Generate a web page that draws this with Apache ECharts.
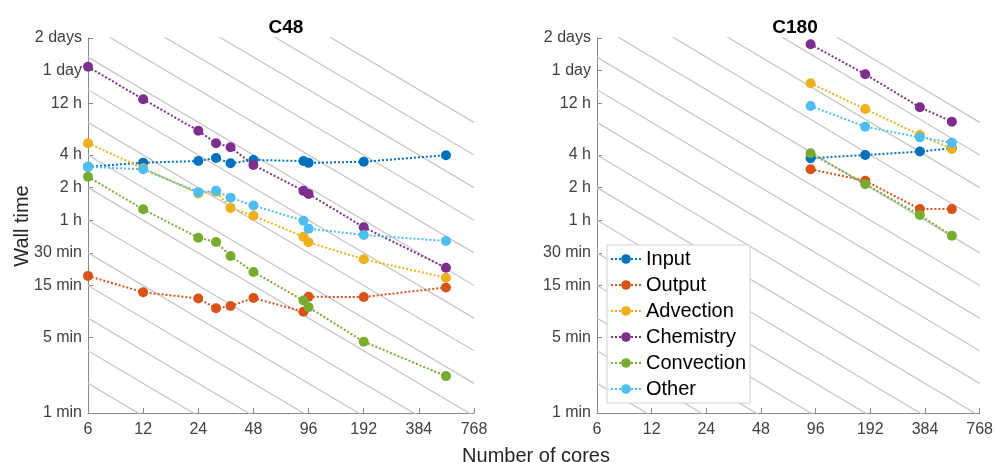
<!DOCTYPE html>
<html>
<head>
<meta charset="utf-8">
<script src="https://cdn.jsdelivr.net/npm/echarts@6/dist/echarts.min.js"></script>
<style>
html, body { margin: 0; padding: 0; background: #fff; }
#main { width: 996px; height: 462px; }
</style>
</head>
<body>
<div id="main"></div>
<script>
// tick labels
var coreTicks = [6, 12, 24, 48, 96, 192, 384, 768];
var timeTicks = [1, 5, 15, 30, 60, 120, 240, 720, 1440, 2880];   // minutes
var timeLabels = ['1 min', '5 min', '15 min', '30 min', '1 h', '2 h', '4 h', '12 h', '1 day', '2 days'];

var seriesNames = ['Input', 'Output', 'Advection', 'Chemistry', 'Convection', 'Other'];
var colors = ['#0072BD', '#D95319', '#EDB120', '#7E2F8E', '#77AC30', '#4DBEEE'];

// C48 run, wall time in minutes
var coresC48 = [6, 12, 24, 30, 36, 48, 90, 96, 192, 540];
var inputC48 = [187, 204, 211, 225, 201, 216, 211, 203, 208, 239];
var outputC48 = [18.4, 13.0, 11.4, 9.25, 9.7, 11.5, 8.6, 11.8, 11.75, 14.4];
var advectionC48 = [308, 181, 106, 110, 78, 66, 42.3, 37.6, 26.2, 17.7];
var chemistryC48 = [1566, 783, 402, 308, 283, 194, 112, 105, 51.7, 21.9];
var convectionC48 = [151, 75.7, 41.4, 37.8, 28.1, 20.0, 10.9, 9.44, 4.55, 2.19];
var otherC48 = [187, 177, 109, 112, 97, 82, 59.4, 50.2, 43.9, 38.6];

// C180 run
var coresC180 = [90, 180, 360, 540];
var inputC180 = [224, 240, 258, 277];
var outputC180 = [177, 139, 76, 76];
var advectionC180 = [1100, 637, 367, 273];
var chemistryC180 = [2518, 1333, 661, 487];
var convectionC180 = [249, 129, 67, 43.2];
var otherC180 = [679, 438, 349, 312];

// ideal scaling lines: constant core-days (time = C / cores)
var idealCoreDays = [1/1024, 1/512, 1/256, 1/128, 1/64, 1/32, 1/16, 1/8, 1/4, 1/2, 1, 2, 4, 8, 16, 32, 64, 128, 256];

var LOG2 = Math.log10(2);
function xOf(n) { return Math.log2(n / coreTicks[0]); }
function yOf(t) { return Math.log10(t); }

var xMax = xOf(coreTicks[coreTicks.length - 1]);
var yMax = yOf(timeTicks[timeTicks.length - 1]);

var font = '"Liberation Sans", Arial, sans-serif';

function makeX(gi) {
    return {
        type: 'value', gridIndex: gi, min: 0, max: xMax, interval: 1,
        axisLine: { lineStyle: { color: '#8a8a8a', width: 1 } },
        axisTick: { inside: true, length: 5, lineStyle: { color: '#8a8a8a' } },
        axisLabel: {
            color: '#404040', fontSize: 16, fontFamily: font, margin: 9,
            formatter: function (v) { return String(Math.round(coreTicks[0] * Math.pow(2, v))); }
        },
        splitLine: { show: false }
    };
}
function makeY(gi) {
    var vals = timeTicks.map(yOf);
    return {
        type: 'value', gridIndex: gi, min: 0, max: yMax,
        axisLine: { show: true, lineStyle: { color: '#8a8a8a', width: 1 } },
        axisTick: { inside: true, length: 5, customValues: vals, lineStyle: { color: '#8a8a8a' } },
        axisLabel: {
            color: '#404040', fontSize: 16, fontFamily: font, margin: 6, customValues: vals,
            formatter: function (v) {
                for (var i = 0; i < vals.length; i++) {
                    if (Math.abs(vals[i] - v) < 1e-6) return timeLabels[i];
                }
                return '';
            }
        },
        splitLine: { show: false }
    };
}

var series = [];
[0, 1].forEach(function (gi) {
    idealCoreDays.forEach(function (cd) {
        var c = cd * 1440;   // core-minutes
        series.push({
            type: 'line', xAxisIndex: gi, yAxisIndex: gi, silent: true, symbol: 'none',
            clip: true, z: 1,
            lineStyle: { color: '#c8c8c8', width: 1.3 },
            data: [[0, yOf(c / coreTicks[0])], [xMax, yOf(c / coreTicks[0]) - xMax * LOG2]]
        });
    });
});

var panels = [
    { cores: coresC48, data: [inputC48, outputC48, advectionC48, chemistryC48, convectionC48, otherC48] },
    { cores: coresC180, data: [inputC180, outputC180, advectionC180, chemistryC180, convectionC180, otherC180] }
];
panels.forEach(function (p, gi) {
    p.data.forEach(function (vals, si) {
        series.push({
            name: seriesNames[si], type: 'line', xAxisIndex: gi, yAxisIndex: gi, z: 3,
            symbol: 'circle', symbolSize: 10,
            itemStyle: { color: colors[si] },
            lineStyle: { color: colors[si], width: 2, type: [2, 2] },
            data: p.cores.map(function (n, k) { return [xOf(n), yOf(vals[k])]; })
        });
    });
});

var myChart = echarts.init(document.getElementById('main'), null, { renderer: 'canvas' });
var option = {
    backgroundColor: '#fff',
    animation: false,
    title: [
        { text: 'C48', left: 281, top: 13, textAlign: 'center',
          textStyle: { fontSize: 19, fontWeight: 'bold', color: '#000', fontFamily: font } },
        { text: 'C180', left: 790, top: 13, textAlign: 'center',
          textStyle: { fontSize: 19, fontWeight: 'bold', color: '#000', fontFamily: font } }
    ],
    grid: [
        { left: 88, top: 38, width: 386, height: 375 },
        { left: 597, top: 38, width: 386, height: 375 }
    ],
    xAxis: [makeX(0), makeX(1)],
    yAxis: [makeY(0), makeY(1)],
    legend: {
        data: seriesNames, orient: 'vertical', left: 607, top: 245,
        padding: [4, 4, 4, 3], itemGap: 6, itemWidth: 30, itemHeight: 12,
        backgroundColor: '#fff', borderColor: '#cfcfcf', borderWidth: 1, borderRadius: 0,
        textStyle: { fontSize: 20, color: '#000', fontFamily: font, lineHeight: 20 }
    },
    graphic: [
        { type: 'text', x: 22, y: 226, rotation: Math.PI / 2,
          style: { text: 'Wall time', fontSize: 20, fill: '#262626', fontFamily: font,
                   textAlign: 'center', textVerticalAlign: 'middle' } },
        { type: 'text', x: 536, y: 446,
          style: { text: 'Number of cores', fontSize: 20, fill: '#262626', fontFamily: font,
                   textAlign: 'center', textVerticalAlign: 'top' } }
    ],
    series: series
};
myChart.setOption(option);
</script>
</body>
</html>
